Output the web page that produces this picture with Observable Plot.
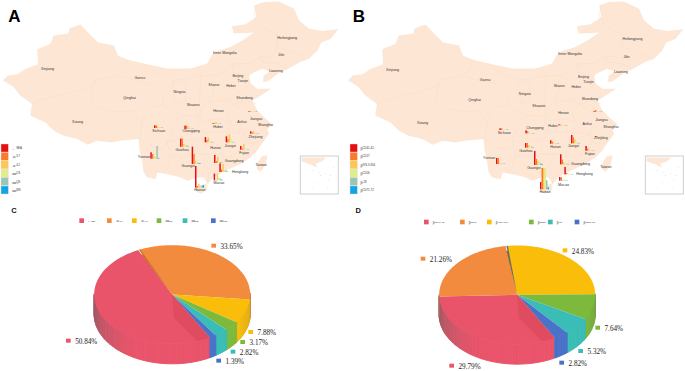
<!DOCTYPE html>
<html><head><meta charset="utf-8">
<script src="https://cdn.jsdelivr.net/npm/d3@7"></script>
<script src="https://cdn.jsdelivr.net/npm/@observablehq/plot@0.6"></script>
<style>
html,body{margin:0;padding:0;background:#fff}
#fig{position:relative;width:685px;height:371px;overflow:hidden}
#fig svg{position:absolute;background:transparent}
</style></head><body><div id="fig"></div>
<script>
// ---------- map geometry (map units = 1/3 px)
const chinaOutline=[[8,240],[22,226],[50,222],[75,206],[113,192],[111,146],[150,131],[160,106],[204,100],[208,84],[240,73],[262,96],[292,126],[340,136],[352,166],[380,178],[430,190],[500,205],[570,205],[620,190],[640,155],[690,140],[730,118],[762,96],[700,98],[695,78],[735,72],[768,50],[762,15],[790,5],[835,4],[880,25],[895,60],[925,85],[965,92],[1012,87],[990,115],[962,125],[950,150],[925,175],[900,183],[862,205],[835,217],[800,243],[788,243],[790,226],[810,212],[785,205],[760,215],[745,226],[750,250],[772,266],[810,265],[772,290],[755,300],[770,330],[790,350],[815,372],[800,385],[805,400],[790,420],[770,450],[750,470],[720,490],[680,508],[640,528],[622,550],[610,530],[590,530],[560,540],[540,530],[500,520],[470,515],[465,535],[440,530],[430,515],[425,480],[418,450],[415,415],[360,420],[330,425],[290,420],[262,432],[230,415],[190,405],[160,390],[135,365],[90,345],[95,310],[60,285],[40,260]];
const hainanOutline=[[585,562],[618,550],[619,568],[600,579],[585,571]];
const taiwanOutline=[[769,492],[784,468],[800,465],[796,490],[781,513],[770,506]];
const insetLand=[[903,471],[976,471],[965,482],[945,490],[950,502],[930,492],[903,482]];
const insetIslands=[[935,510],[960,525],[975,520],[950,545],[965,550],[985,540],[935,565],[980,565],[955,515],[990,525],[1000,500]];
const provinceBorders=[
 [[380,178],[375,205],[350,225],[285,240]],
 [[285,240],[280,255],[180,285],[130,295],[95,310]],
 [[280,255],[270,300],[300,325],[360,335],[400,330],[425,370],[420,400],[415,415]],
 [[350,225],[400,240],[450,250],[490,280],[485,315],[450,320],[430,345],[425,370]],
 [[485,315],[520,335],[545,345],[595,345]],
 [[430,190],[460,215],[490,230],[520,240],[560,235],[600,225],[650,225],[670,215],[700,190],[740,190],[780,170],[815,165],[830,140],[830,100],[785,80],[760,45],[768,15]],
 [[830,140],[870,150],[910,170]],[[790,185],[830,190],[860,205]],[[780,170],[790,185],[770,205]],
 [[520,240],[515,265],[530,310],[555,300],[555,250],[540,238]],
 [[600,225],[600,260],[595,310],[600,330]],
 [[650,225],[640,240],[640,270],[625,305],[600,330]],
 [[745,255],[700,285],[680,300]],
 [[600,330],[600,345],[610,360],[660,355],[690,365],[680,340],[700,310],[680,300],[625,305]],
 [[595,345],[600,370],[585,385],[620,395],[680,395],[695,375],[690,365]],
 [[545,345],[510,395],[540,415],[585,385]],
 [[420,415],[450,440],[490,445],[500,425],[510,395]],
 [[500,425],[540,415],[590,420],[590,460],[555,470],[510,465],[500,425]],
 [[590,420],[620,395]],[[680,395],[665,440],[660,465],[630,460],[590,460]],
 [[680,395],[730,400],[740,430],[715,450],[690,470],[660,465]],
 [[730,400],[750,430],[790,420]],[[715,450],[750,470]],
 [[625,465],[610,500],[625,520],[620,550]],[[690,470],[720,490]],
 [[510,465],[500,500],[490,518]],
 [[700,310],[730,330],[760,355],[740,380],[730,400]],[[700,310],[740,300],[765,310]],[[760,355],[800,385]],
 [[700,190],[695,215],[745,226]]
];
// ---------- province names and label spots
const labelsA=[["Xinjiang",141,205],["Gansu",418,232],["Qinghai",387,293],["Xizang",231,363],["Inner Mongolia",673,157],["Heilongjiang",860,111],["Jilin",842,163],["Liaoning",826,210],["Beijing",712,225],["Tianjin",727,241],["Hebei",691,257],["Shanxi",640,253],["Shandong",732,291],["Ningxia",537,273],["Shaanxi",578,313],["Henan",654,331],["Anhui",724,365],["Jiangsu",767,354],["Shanghai",795,373],["Hubei",652,379],["Sichuan",475,391],["Chongqing",572,392],["Zhejiang",765,408],["Hunan",645,441],["Jiangxi",689,435],["Fujian",731,456],["Guizhou",545,447],["Yunnan",430,470],["Guangxi",563,497],["Guangdong",701,481],["Hongkong",719,513],["Macao",655,548],["Hainan",598,568],["Taiwan",782,494]];
const labelsB=[["Xinjiang",141,209],["Gansu",419,237],["Qinghai",387,298],["Xizang",231,367],["Inner Mongolia",674,160],["Heilongjiang",861,116],["Jilin",843,168],["Liaoning",826,215],["Beijing",714,230],["Tianjin",729,245],["Hebei",692,260],["Shanxi",641,257],["Shandong",733,296],["Ningxia",538,279],["Shaanxi",580,317],["Henan",654,336],["Anhui",725,369],["Jiangsu",768,358],["Shanghai",796,378],["Hubei",622,375],["Sichuan",476,396],["Chongqing",568,381],["Zhejiang",766,412],["Hunan",630,438],["Jiangxi",684,437],["Fujian",733,461],["Guizhou",541,452],["Yunnan",431,473],["Guangxi",565,503],["Guangdong",705,491],["Hongkong",717,521],["Macao",654,552],["Hainan",599,575],["Taiwan",781,499]];
// ---------- province bar values: [province, baseX, baseY, six values]
const barsA=[["Sichuan",462,384,8,8,4,2,1,1],["Chongqing",553,387,10,10,7,2,1,1],["Hubei",637,372,2,2,6,2,1,1],["Zhejiang",750,401,7,4,7,2,1,1],["Jiangsu",745,335,2,1,1,1,1,1],["Hunan",614,427,16,8,14,2,2,1],["Jiangxi",677,427,18,10,24,10,2,1],["Fujian",720,449,11,4,17,3,1,1],["Guizhou",540,440,24,24,8,4,4,1],["Yunnan",451,476,19,14,7,5,38,2],["Guangxi",575,492,52,30,10,5,4,2],["Guangdong",642,489,24,6,18,4,3,1],["Hongkong",658,516,26,8,24,6,5,1],["Macao",641,541,20,1,20,8,5,2],["Hainan",585,563,65,5,12,8,5,8]];
const barsB=[["Sichuan",463,390,5,5,1,1,1,1],["Chongqing",541,400,9,6,2,1,1,1],["Hubei",640,376,3,2,1,1,1,1],["Jiangsu",745,336,2,6,1,1,1,1],["Zhejiang",750,410,2,1,1,1,1,1],["Hunan",615,431,10,6,3,1,1,1],["Jiangxi",678,430,25,18,12,3,2,1],["Fujian",721,452,14,6,3,1,1,1],["Guizhou",540,443,14,14,8,5,3,1],["Yunnan",453,492,18,18,3,2,1,1],["Guangxi",567,495,42,18,12,10,6,2],["Guangdong",645,493,30,14,6,3,2,1],["Hongkong",658,523,22,4,2,1,1,1],["Macao",642,542,11,10,2,4,1,1],["Hainan",585,568,22,64,64,64,27,6]];
const barColors=["#e60f14","#f97b2c","#fcc851","#dcef8c","#95c8b8","#0fa5e6"];
// ---------- legends
const alphaBase=["--","-α","-α","αα","αα","αα"];
const alphaSup=["SEA","3.7","4.2","CS","QS","WS"];
const betaBase=["β","β","β","β","β","β"];
const betaSup=["CD41-42","CD17","IVS-II-654","CD26","-28","CD71-72"];
// ---------- pies
const pieColors=["#ea546b","#f28b3e","#f9bd0a","#7dba3c","#3abdb6","#4a72c8"];
const pieC=[50.84,33.65,7.88,3.17,2.82,1.39];
const pieD=[29.79,21.26,24.83,7.64,5.32,2.82];
const pieCLegendX=[245,328,403,477,555,640];
const pieDLegendX=[244,352,433,559,616,696];
const pieCLabels=[[205,437],[641,152],[752,411],[728,441],[699,470],[656,497]];
const pieDLabels=[[320,512],[234,191],[660,166],[758,398],[707,468],[650,503]];

const base={margin:0,style:{fontFamily:"'Liberation Sans',Arial,sans-serif",background:"transparent"},color:{type:"identity"}};
const place=(svg,l,t)=>{svg.style.left=l+"px";svg.style.top=t+"px";document.getElementById("fig").append(svg);};
const toPts=(id,fill,pts)=>pts.map(p=>({id,fill,x:p[0],y:p[1]}));

function mapPanel(letter,letterX,letterY,labels,bars,legB,legS,legSquareX,legTextX,left,top){
  const polys=[...toPts("main","#fde6d3",chinaOutline),...toPts("hn","#fde6d3",hainanOutline),...toPts("tw","#fde6d3",taiwanOutline)];
  const borders=provinceBorders.flatMap((b,i)=>toPts("b"+i,"none",b));
  const rects=bars.flatMap(r=>r.slice(3).map((v,i)=>({x1:r[1]+i*4.5,x2:r[1]+i*4.5+4.5,y1:r[2]-v,y2:r[2],fill:barColors[i]})));
  const legend=legB.map((b,i)=>({b,s:legS[i],c:barColors[i],y:444+i*25.2}));
  const svg=Plot.plot({...base,width:340,height:200,
    x:{domain:[0,1020],range:[0,340],axis:null},y:{domain:[0,600],range:[0,200],axis:null},
    marks:[
      Plot.line(polys,{x:"x",y:"y",z:"id",fill:"fill",stroke:"#f9e0cc",strokeWidth:0.3}),
      Plot.line(borders,{x:"x",y:"y",z:"id",stroke:"#f4dfcd",strokeWidth:0.5}),
      Plot.rect([{x1:901,x2:1015,y1:468,y2:582}],{x1:"x1",x2:"x2",y1:"y1",y2:"y2",fill:"#fff",stroke:"#cfcfcf",strokeWidth:1}),
      Plot.line(toPts("inset","#fde6d3",insetLand),{x:"x",y:"y",z:"id",fill:"fill"}),
      Plot.dot(insetIslands,{x:d=>d[0],y:d=>d[1],r:0.4,fill:"#c4c4c4"}),
      Plot.rect(rects,{x1:"x1",x2:"x2",y1:"y1",y2:"y2",fill:"fill"}),
      Plot.text(labels,{x:d=>d[1],y:d=>d[2],text:d=>d[0],fontSize:3.6,fill:"#333"}),
      Plot.rect(legend,{x1:legSquareX,x2:legSquareX+22,y1:d=>d.y-12,y2:d=>d.y+12,fill:"c",stroke:"#f5d5cf",strokeWidth:0.4}),
      Plot.text(legend,{x:legTextX,y:d=>d.y+1,text:"b",fontSize:3.6,textAnchor:"start",fill:"#333"}),
      Plot.text(legend,{x:d=>legTextX+d.b.length*6,y:d=>d.y-1,text:"s",fontSize:2.8,textAnchor:"start",fill:"#333"}),
      Plot.text([letter],{x:letterX,y:letterY,fontSize:17,fontWeight:"bold",fill:"#000"})
    ]});
  place(svg,left,top);
}

function piePanel(letter,letterX,values,labelSpots,legB,legS,legX,legY,startDeg,left,top,cy){
  const cx=515,rx=234,ry=148,depth=60;
  const rad=d=>d*Math.PI/180;
  const rim=(a,dy=0)=>[cx+rx*Math.sin(a),cy-ry*Math.cos(a)+dy];
  const arcs=d3.pie().sort(null).startAngle(rad(startDeg)).endAngle(rad(startDeg)+2*Math.PI)(values);
  const walls=[],tops=[];
  arcs.forEach((s,i)=>{
    for(let a=s.startAngle;a<s.endAngle-1e-6;a+=rad(2)){
      const a1=Math.min(a+rad(2),s.endAngle);
      if(Math.cos((a+a1)/2)>0.02) continue;
      const deg=(((a+a1)/2*180/Math.PI)%360+360)%360;
      const sh=deg>205?Math.min(0.55,Math.pow((deg-205)/62,1.4)*0.55):deg<125?(125-deg)/35*0.25:0;
      const col=d3.interpolateRgb(pieColors[i],"#5f5f5f")(sh);
      const q=[rim(a),rim(a1),rim(a1,depth),rim(a,depth)];
      walls.push(...toPts(`w${i}-${a}`,col,[...q,q[0]]));
    }
    const pts=[[cx,cy]];
    for(let a=s.startAngle;a<s.endAngle;a+=rad(1)) pts.push(rim(a));
    pts.push(rim(s.endAngle));
    tops.push(...toPts("t"+i,pieColors[i],pts));
  });
  const red=arcs[0];
  const wedge=toPts("wedge","#df4c60",[[cx,cy],rim(red.startAngle),rim(red.startAngle+rad(10)),[cx+5,cy+70]]);
  const cutAngle=letter==="C"?arcs[1].startAngle:arcs[2].startAngle;
  const cutColor=letter==="C"?"#c9702f":"#6f6a5c";
  const seam=toPts("seam",cutColor,[[cx,cy],rim(cutAngle-rad(0.4)),rim(cutAngle+rad(1.4))]);
  const gap=[{x1:cx+(rim(cutAngle)[0]-cx)*0.9,y1:cy+(rim(cutAngle)[1]-cy)*0.9,x2:rim(cutAngle)[0],y2:rim(cutAngle)[1]}];
  const legend=legB.map((b,i)=>({b,s:legS[i],x:legX[i],c:pieColors[i]}));
  const pct=values.map((v,i)=>({v:v.toFixed(2)+"%",x:labelSpots[i][0],y:labelSpots[i][1],c:pieColors[i]}));
  const svg=Plot.plot({...base,width:340,height:176,
    x:{domain:[0,1020],range:[0,340],axis:null},y:{domain:[0,528],range:[0,176],axis:null},
    marks:[
      Plot.line(walls,{x:"x",y:"y",z:"id",fill:"fill",stroke:"fill",strokeWidth:0.9}),
      Plot.line(tops,{x:"x",y:"y",z:"id",fill:"fill"}),
      Plot.line(wedge,{x:"x",y:"y",z:"id",fill:"fill"}),
      Plot.line(seam,{x:"x",y:"y",z:"id",fill:"fill"}),
      Plot.link(gap,{x1:"x1",y1:"y1",x2:"x2",y2:"y2",stroke:"#fff",strokeWidth:0.9}),
      Plot.rect(legend,{x1:d=>d.x-7,x2:d=>d.x+7,y1:legY-7,y2:legY+7,fill:"c"}),
      Plot.text(legend,{x:d=>d.x+18,y:legY+1,text:"b",fontSize:3,textAnchor:"start",fill:"#333"}),
      Plot.text(legend,{x:d=>d.x+18+d.b.length*5,y:legY,text:"s",fontSize:2.4,textAnchor:"start",fill:"#333"}),
      Plot.rect(pct,{x1:d=>d.x-7,x2:d=>d.x+7,y1:d=>d.y-6,y2:d=>d.y+6,fill:"c"}),
      Plot.text(pct,{x:d=>d.x+19,y:d=>d.y+2,text:"v",textAnchor:"start",fontSize:7.2,fontFamily:"'Liberation Serif',serif",fill:"#222"}),
      Plot.text([letter],{x:letterX,y:44,fontSize:7.5,fontWeight:"bold",fill:"#111"})
    ]});
  place(svg,left,top);
}

mapPanel("A",42,47,labelsA,barsA,alphaBase,alphaSup,3,35,0,0);
mapPanel("B",40,47,labelsB,barsB,betaBase,betaSup,15,45,345,0);
piePanel("C",40,pieC,pieCLabels,alphaBase,alphaSup,pieCLegendX,77,151,0,195,297);
piePanel("D",38,pieD,pieDLabels,betaBase,betaSup,pieDLegendX,81,151.2,345,195,298);
</script></body></html>
